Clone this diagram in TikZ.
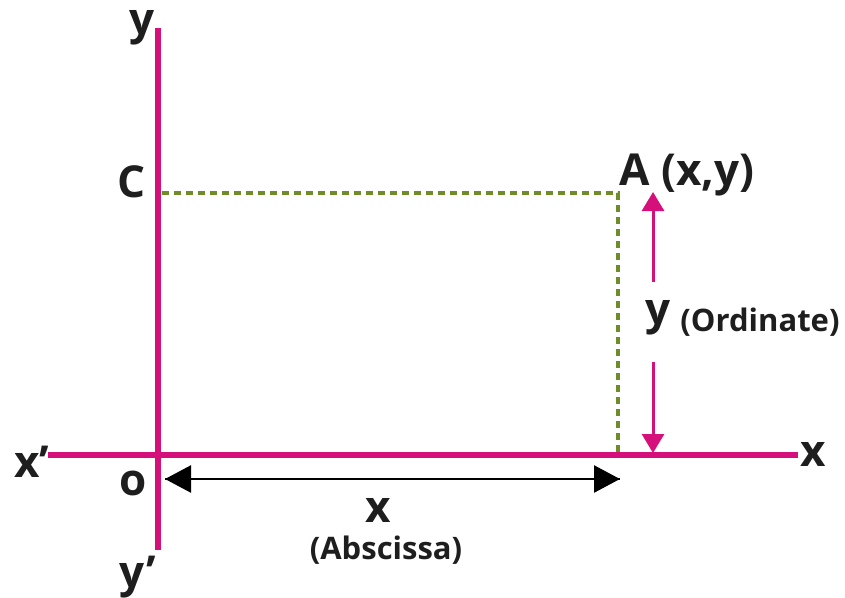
\documentclass[tikz,border=0pt]{standalone}
\usepackage{fontspec}
\setmainfont{Open Sans}
\usetikzlibrary{arrows.meta, positioning}
\definecolor{axispink}{RGB}{214,16,122}
\definecolor{guidegreen}{RGB}{110,140,40}
\definecolor{inkgray}{RGB}{30,30,30}

\begin{document}
\begin{tikzpicture}[x=1pt, y=-1pt,
    axis/.style={draw=axispink, line width=6.5pt},
    guide/.style={draw=guidegreen, line width=3.5pt, dash pattern=on 7pt off 5pt},
    lbl/.style={inner sep=0pt, text=inkgray, font=\bfseries\fontsize{44}{44}\selectfont},
    note/.style={inner sep=0pt, text=inkgray, font=\bfseries\fontsize{31}{31}\selectfont},
    measure/.style={line width=2.5pt, -{Triangle[length=26pt, width=27pt]}},
    pinkmeasure/.style={draw=axispink, line width=3pt, -{Triangle[length=19pt, width=22pt]}, color=axispink}]
      \useasboundingbox (0,0) rectangle (845,597);
      % axes
      \coordinate (x_left) at (48,455);
      \coordinate (x_right) at (798,455);
      \coordinate (y_top) at (158,28);
      \coordinate (y_bot) at (158,550);
      \coordinate (O) at (158,455);
      \draw[axis] (x_left) -- (x_right);
      \draw[axis] (y_top) -- (y_bot);
      % point A and its projections
      \coordinate (C) at (162,193);
      \coordinate (A) at (618,193);
      \coordinate (A_foot) at (618,452);
      \draw[guide] (C) -- (A) -- (A_foot);
      % axis labels
      \node[lbl] (y_lbl) at (142,28) {y};
      \node[lbl] (y_prime) at (138,577) {y’};
      \node[lbl] (x_prime) at (32,462) {x’};
      \node[lbl] (x_lbl) at (813,454) {x};
      \node[lbl] (o_lbl) at (133,483) {o};
      \node[lbl] (C_lbl) at (132,182) {C};
      \node[lbl] (A_lbl) at (687,175) {A (x,y)};
      % abscissa
      \coordinate (abs_l) at (165,479);
      \coordinate (abs_r) at (620,479);
      \draw[measure] (abs_l) -- (abs_r);
      \draw[measure] (abs_r) -- (abs_l);
      \node[lbl] (abs_x) at (378,510) {x};
      \node[note] (abs_note) at (386,550) {(Abscissa)};
      % ordinate
      \coordinate (ord_top) at (653,192);
      \coordinate (ord_bot) at (653,453);
      \coordinate (ord_mid_a) at (653,282);
      \coordinate (ord_mid_b) at (653,362);
      \draw[pinkmeasure] (ord_mid_a) -- (ord_top);
      \draw[pinkmeasure] (ord_mid_b) -- (ord_bot);
      \node[lbl] (ord_y) at (658,318) {y};
      \node[note] (ord_note) at (760,322) {(Ordinate)};
\end{tikzpicture}
\end{document}
